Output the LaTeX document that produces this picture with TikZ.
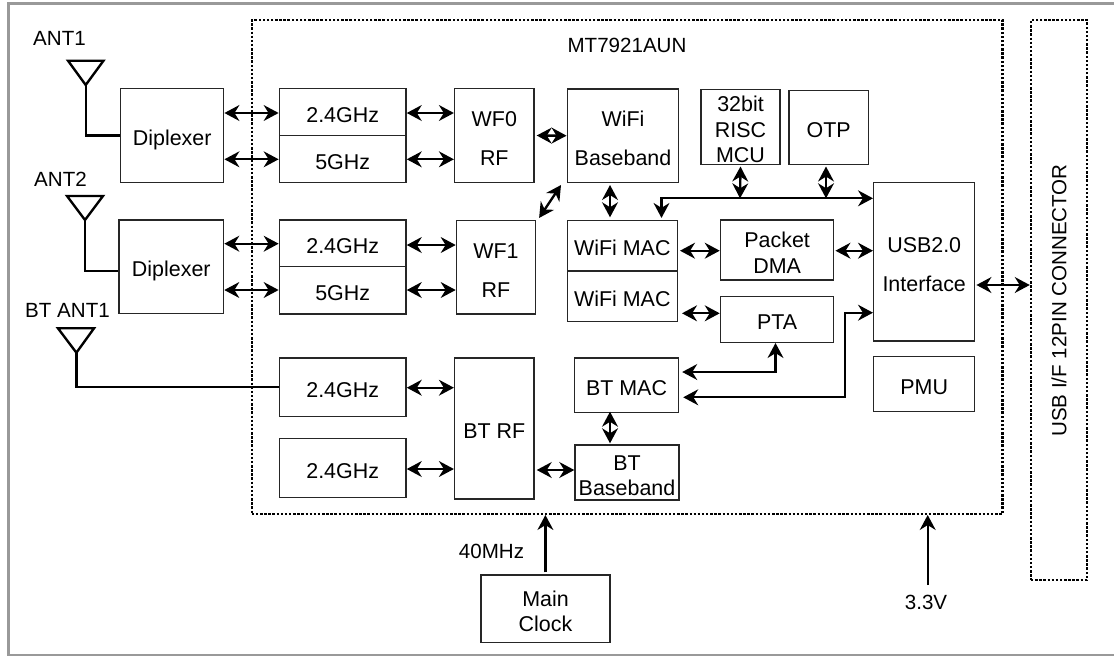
\documentclass[tikz,border=0pt]{standalone}
\usepackage{fontspec}
\setmainfont{Liberation Sans}
\usetikzlibrary{arrows.meta}
\tikzset{
  sz/.style 2 args={minimum width=#1*0.02cm,minimum height=#2*0.02cm},
  blk/.style={draw=black!85,line width=0.8pt,inner sep=0pt,align=center,font=\fontsize{12.2}{14.4}\selectfont,
    execute at begin node={\rule{0pt}{11.5pt}}},
  dots/.style={draw=black,line width=1.4pt,dash pattern=on 1.4pt off 0.95pt,inner sep=0pt},
  link/.style={line width=1.35pt,>={Stealth[length=8.5pt,width=9pt]}},
  wire/.style={line width=1.35pt,line join=miter},
  txt/.style={inner sep=0pt,align=center,font=\fontsize{11.7}{14.4}\selectfont}
}
\newcommand{\wide}{\\[7.9pt]}
\newcommand{\topgap}{\rule{0pt}{12pt}}
\begin{document}
\begin{tikzpicture}[x=0.02cm,y=-0.02cm]
  \useasboundingbox (0,0) rectangle (1114,656);
  \draw[black!40,line width=1.3pt] (8.6,3.5) rectangle (1125,655);
  \draw
    (627.2,266.9) node[dots,sz={750.7}{493.7}] (chip){}
    (1059,300) node[dots,sz={56}{560}] (conn){}
    (627,45) node[txt] (chipname){MT7921AUN}
    (1059,300.5) node[txt,rotate=90] (conntxt){USB I/F 12PIN CONNECTOR}
    (59.5,38) node[txt] (anta){ANT1}
    (60.5,179.3) node[txt] (antb){ANT2}
    (67.5,310.7) node[txt] (antc){BT ANT1}
    (491.5,551.7) node[txt] (mhz){40MHz}
    (926,602.7) node[txt] (volt){3.3V};
  \draw
    (172.2,135.5) node[blk,text depth=0pt,sz={103}{93.6}] (dipa){Diplexer}
    (171.3,266.7) node[blk,text depth=0pt,sz={104.6}{93.3}] (dipb){Diplexer}
    (342.7,112.2) node[blk,sz={126.7}{47}] (ga){2.4GHz}
    (342.7,159) node[blk,sz={126.7}{46.6}] (fa){5GHz}
    (342.7,243.2) node[blk,sz={126.7}{46.3}] (gb){2.4GHz}
    (342.7,290.2) node[blk,sz={126.7}{47.7}] (fb){5GHz}
    (342.7,387.2) node[blk,sz={126.7}{58.3}] (gc){2.4GHz}
    (342.7,468) node[blk,sz={126.7}{58.6}] (gd){2.4GHz}
    (494.3,135.5) node[blk,sz={79.4}{93.6}] (wfa){\topgap WF0\wide RF}
    (495.9,267.3) node[blk,sz={79}{93.3}] (wfb){\topgap WF1\wide RF}
    (494.3,428.5) node[blk,sz={79.4}{141}] (btrf){BT RF}
    (545.5,608.6) node[blk,sz={129}{67.3}] (clock){\topgap Main\\Clock}
    (623,135.7) node[blk,sz={111.5}{93.3}] (bb){\topgap WiFi\wide Baseband}
    (740.5,126.8) node[blk,sz={79}{75}] (mcu){\topgap 32bit\\RISC\\MCU}
    (828.7,127.5) node[blk,sz={79.4}{73.6}] (otp){OTP}
    (924.2,261.6) node[blk,sz={101}{158.7}] (usb){\topgap USB2.0\wide Interface}
    (622.3,245.8) node[blk,sz={110}{50.3}] (maca){WiFi MAC}
    (622.3,296.3) node[blk,sz={110}{50.7}] (macb){WiFi MAC}
    (777.1,250) node[blk,sz={113.3}{60}] (dma){\topgap Packet\\DMA}
    (777.1,319.5) node[blk,sz={113.3}{45.6}] (pta){PTA}
    (626.5,385.2) node[blk,sz={104}{54.3}] (btmac){BT MAC}
    (627,472.5) node[blk,sz={104}{55}] (btbb){\topgap BT\\Baseband}
    (924.2,384.2) node[blk,sz={101}{55}] (pmu){PMU};
  % antennas
  \coordinate (tipa) at (85.7,85);
  \coordinate (tipb) at (85,220);
  \coordinate (tipc) at (76.4,352.7);
  \draw[wire] (68,60.7) -- (103.5,60.7) -- (tipa) -- cycle;
  \draw[wire] (67,196) -- (103,196) -- (tipb) -- cycle;
  \draw[wire] (58,328.3) -- (94,328.3) -- (tipc) -- cycle;
  \draw[wire] (tipa) |- (dipa.west);
  \draw[wire] (tipb) |- (dipb.west |- 0,270.7);
  \draw[wire] (tipc) |- (gc.west);
  \begin{scope}[link,<->]
    \draw (dipa.east |- 0,113) -- (ga.west |- 0,113);
    \draw (dipa.east |- 0,159.3) -- (fa.west |- 0,159.3);
    \draw (ga.east |- 0,113) -- (wfa.west |- 0,113);
    \draw (fa.east |- 0,159.3) -- (wfa.west |- 0,159.3);
    \draw (dipb.east |- 0,243.7) -- (gb.west |- 0,243.7);
    \draw (dipb.east |- 0,290) -- (fb.west |- 0,290);
    \draw (gb.east |- 0,245) -- (wfb.west |- 0,245);
    \draw (fb.east |- 0,290) -- (wfb.west |- 0,290);
    \draw (gc.east |- 0,387.7) -- (btrf.west |- 0,387.7);
    \draw (gd.east |- 0,469) -- (btrf.west |- 0,469);
    \draw (wfa.east) ++(2,0) -- (bb.west);
    \draw (wfb.north east) ++(3,-2) -- (561,185);
    \draw (610,185) -- (610,217.3);
    \draw (610,411.7) -- (610,443.3);
    \draw (btrf.east |- 0,470) ++(2,0) -- (btbb.west |- 0,470);
    \draw (maca.east |- 0,250.7) ++(2,0) -- (dma.west |- 0,250.7);
    \draw (dma.east |- 0,250.7) ++(1,0) -- (usb.west |- 0,250.7);
    \draw (macb.east |- 0,313.3) ++(4,0) -- (pta.west |- 0,313.3);
    \draw (usb.east |- 0,285) ++(1,0) -- (conn.west |- 0,285);
    \draw (mcu.south) ++(0,1.5) -- (740,198.3);
    \draw (otp.south -| 826,0) ++(0,1.5) -- (826,198.3);
    \draw (maca.north -| 661.5,0) ++(0,-2) |- (usb.west |- 0,198.3);
    \draw (btmac.east |- 0,372) ++(3,0) -| (pta.south -| 775.5,0);
    \draw (btmac.east |- 0,397.3) ++(4,0) -| (845,312.7) -- (usb.west |- 0,312.7);
  \end{scope}
  \begin{scope}[link,->]
    \draw (clock.north -| 545.4,0) ++(0,-2) -- (chip.south -| 545.4,0);
    \draw (927.7,585) -- (chip.south -| 927.7,0);
  \end{scope}
\end{tikzpicture}
\end{document}
